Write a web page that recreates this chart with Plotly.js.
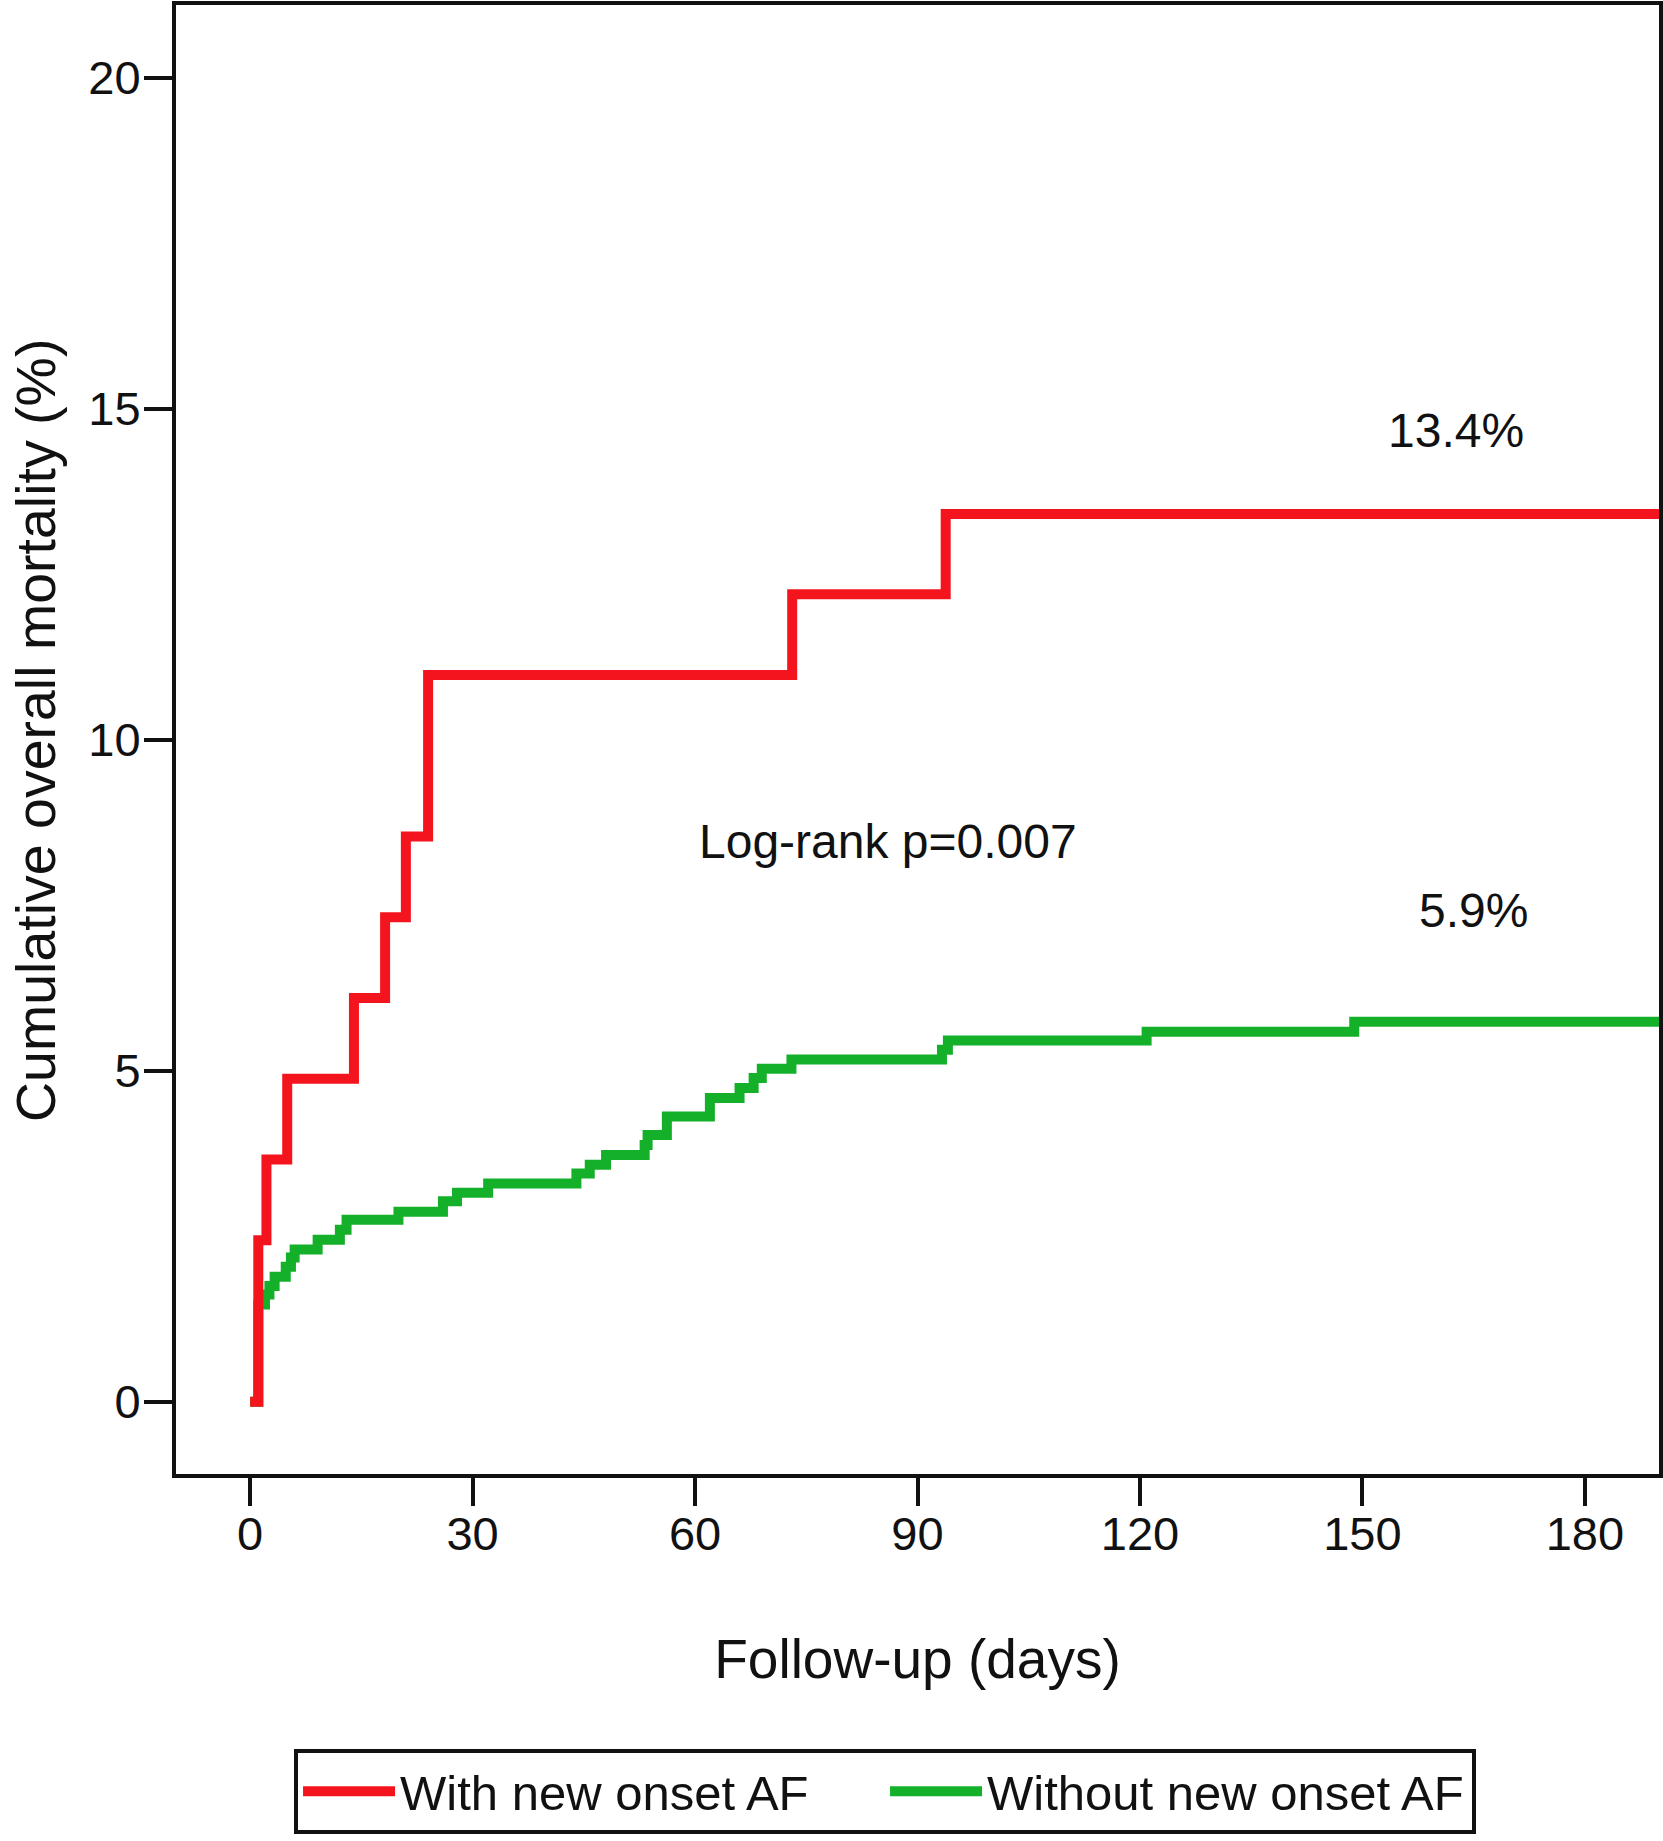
<!DOCTYPE html>
<html>
<head>
<meta charset="utf-8">
<script src="https://cdn.plot.ly/plotly-3.0.1.min.js"></script>
<style>
  html, body { margin: 0; padding: 0; background: #ffffff; }
  #grafico { width: 1663px; height: 1841px; }
</style>
</head>
<body>
<div id="grafico"></div>
<script>
// Curvas de Kaplan-Meier (días, % acumulado)
const diasConFA = [0, 1.1, 2.2, 5.0, 14.0, 18.2, 21.0, 24.0, 73.1, 93.8, 190];
const mortalidadConFA = [0, 2.44, 3.66, 4.88, 6.10, 7.32, 8.54, 10.98, 12.20, 13.41, 13.41];

const diasSinFA = [0, 1.1, 2.0, 2.6, 3.3, 4.8, 5.5, 6.0, 9.1, 12.1,
                   13.0, 20.0, 26.0, 27.9, 32.1, 44.0, 45.8, 48.0, 53.2, 53.6,
                   56.2, 62.0, 66.0, 67.9, 69.0, 73.0, 93.3, 94.1, 120.9, 148.9, 190];
const mortalidadSinFA = [0, 1.47, 1.62, 1.75, 1.89, 2.04, 2.18, 2.30, 2.45, 2.60,
                         2.75, 2.87, 3.03, 3.16, 3.30, 3.45, 3.58, 3.73, 3.88, 4.03,
                         4.31, 4.59, 4.74, 4.89, 5.03, 5.17, 5.32, 5.46, 5.59, 5.74, 5.74];

const ticksDias = [0, 30, 60, 90, 120, 150, 180];
const ticksMortalidad = [0, 5, 10, 15, 20];

const nombres = ['With new onset AF', 'Without new onset AF'];
const etiquetasFinales = ['13.4%', '5.9%'];
const textoLogRank = 'Log-rank p=0.007';
const tituloY = 'Cumulative overall mortality (%)';

const fuente = 'Liberation Sans, Arial, Helvetica, sans-serif';

// La verde va primero para que la roja quede encima en el tramo inicial
const trazaSin = {
    x: diasSinFA,
    y: mortalidadSinFA,
    type: 'scatter',
    mode: 'lines',
    name: nombres[1],
    legendrank: 2,
    line: { color: '#14b02a', width: 10, shape: 'hv' },
    hoverinfo: 'skip'
};

const trazaCon = {
    x: diasConFA,
    y: mortalidadConFA,
    type: 'scatter',
    mode: 'lines',
    name: nombres[0],
    legendrank: 1,
    line: { color: '#f4141e', width: 10, shape: 'hv' },
    hoverinfo: 'skip'
};

const ejeComun = {
    showgrid: false,
    zeroline: false,
    showline: true,
    linecolor: '#111',
    linewidth: 4,
    mirror: true,
    ticks: 'outside',
    ticklen: 28,
    tickwidth: 4,
    tickcolor: '#111',
    tickfont: { family: fuente, size: 47, color: '#111' }
};

const anotacionesTexto = [
    { x: 162.6, y: 14.67, text: etiquetasFinales[0] },
    { x: 86.0, y: 8.47, text: textoLogRank },
    { x: 165.0, y: 7.42, text: etiquetasFinales[1] }
].map(a => ({
    ...a,
    xref: 'x',
    yref: 'y',
    showarrow: false,
    xanchor: 'center',
    yanchor: 'middle',
    font: { family: fuente, size: 48, color: '#111' }
}));

// Título del eje Y como anotación girada (un poco por encima del centro, como en el original)
const anotacionTituloY = {
    text: tituloY,
    xref: 'paper',
    yref: 'paper',
    x: -0.0944,
    y: 0.5058,
    xanchor: 'center',
    yanchor: 'middle',
    textangle: -90,
    showarrow: false,
    font: { family: fuente, size: 55.5, color: '#111' }
};

const layout = {
    width: 1663,
    height: 1841,
    paper_bgcolor: '#ffffff',
    plot_bgcolor: '#ffffff',
    margin: { l: 176, r: 4, t: 5, b: 367 },
    font: { family: fuente, color: '#111' },
    xaxis: {
        ...ejeComun,
        range: [-10, 190],
        tickvals: ticksDias,
        ticktext: ticksDias.map(String),
        ticklabelstandoff: -12,
        title: {
            text: 'Follow-up (days)',
            font: { family: fuente, size: 55, color: '#111' },
            standoff: 81
        }
    },
    yaxis: {
        ...ejeComun,
        range: [-1.09, 21.1],
        tickvals: ticksMortalidad,
        ticktext: ticksMortalidad.map(String),
        ticklabelstandoff: -6
    },
    showlegend: true,
    legend: {
        orientation: 'h',
        x: 0.0796,
        xanchor: 'left',
        y: -0.1872,
        yanchor: 'top',
        bgcolor: '#ffffff',
        bordercolor: '#111',
        borderwidth: 4,
        itemwidth: 92,
        entrywidth: 480,
        font: { family: fuente, size: 49, color: '#111' }
    },
    annotations: [...anotacionesTexto, anotacionTituloY]
};

Plotly.newPlot('grafico', [trazaSin, trazaCon], layout, { displayModeBar: false, staticPlot: true });
</script>
</body>
</html>
